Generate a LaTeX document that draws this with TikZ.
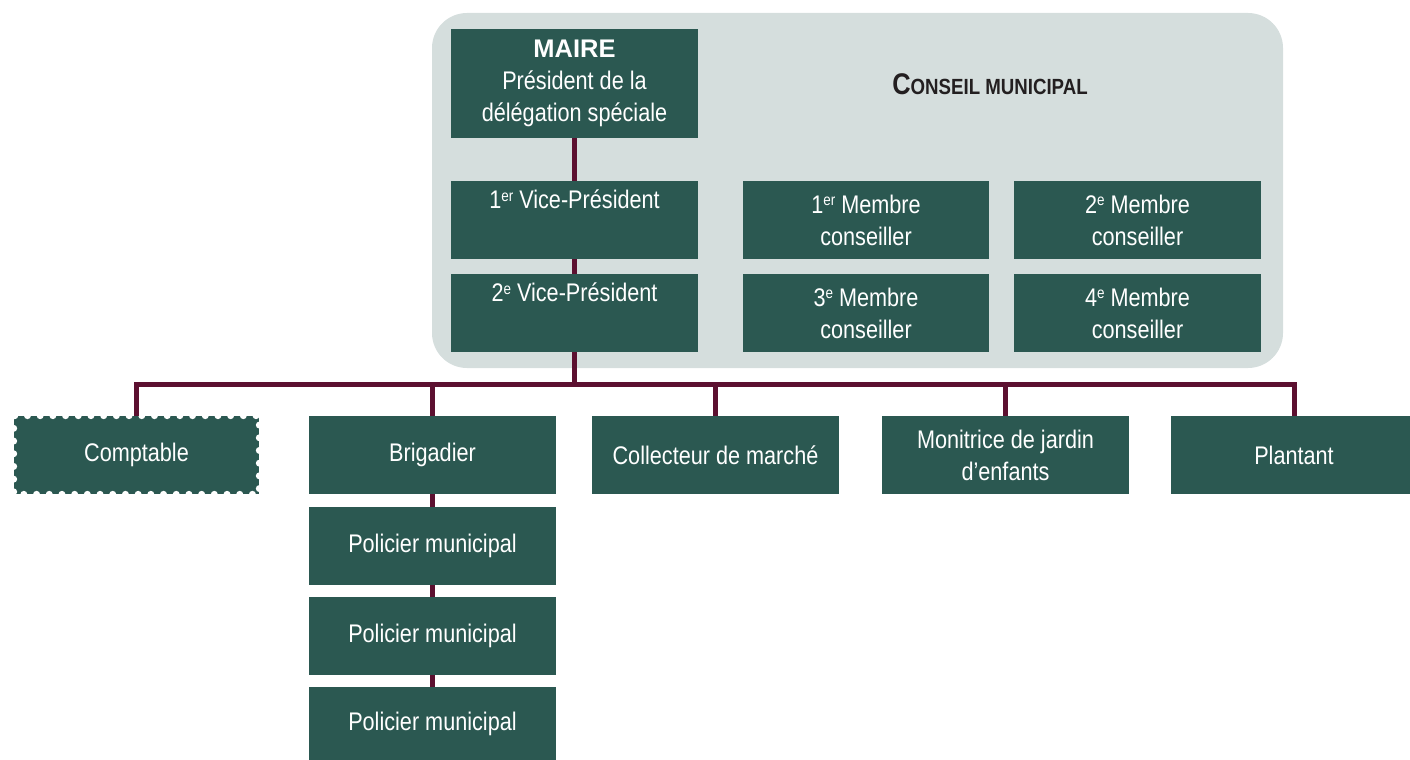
\documentclass[tikz,border=0pt]{standalone}
\usepackage{fontspec}
\setmainfont[FakeStretch=0.85]{Liberation Sans}
\newfontfamily\widefont{Liberation Sans}
\newcommand\ord[1]{\raisebox{0.55ex}{\fontsize{9}{9}\selectfont #1}}
\definecolor{boxteal}{HTML}{2B5851}
\definecolor{panelgray}{HTML}{D5DEDD}
\definecolor{linkred}{HTML}{5C1030}
\definecolor{headdark}{HTML}{231F20}
\tikzset{
  post/.style={fill=boxteal, text=white, inner sep=0pt, align=center,
    minimum width=4.94cm, minimum height=1.56cm,
    font=\fontsize{14.5}{18.2}\selectfont},
  link/.style={draw=linkred, line width=0.1cm},
  stamp/.style={draw=white, line width=0.14cm, line cap=round,
    dash pattern=on 0pt off 0.254cm},
}
\begin{document}
\begin{tikzpicture}[x=0.02cm,y=-0.02cm]
\useasboundingbox (0,0) rectangle (1410,760);

% Council panel
\fill[panelgray, rounded corners=0.7cm] (432,13) rectangle (1283,368);%
\node (conseil) at (990,84) {\bfseries\color{headdark}\fontsize{17}{20}\selectfont C\fontsize{12.5}{15}\selectfont ONSEIL MUNICIPAL};%

% Mayor and vice-presidents
\node[post, minimum height=2.18cm] (maire) at (574.5,83.5) {{\widefont\bfseries MAIRE}\\Président de la\\délégation spéciale};%
\node[post] (vp1) at (574.5,220) {1\ord{er} Vice-Président\\\strut};%
\node[post] (vp2) at (574.5,313) {2\ord{e} Vice-Président\\\strut};%

% Council members
\node[post] (mem1) at (866,220) {1\ord{er} Membre\\conseiller};%
\node[post] (mem2) at (1137.5,220) {2\ord{e} Membre\\conseiller};%
\node[post] (mem3) at (866,313) {3\ord{e} Membre\\conseiller};%
\node[post] (mem4) at (1137.5,313) {4\ord{e} Membre\\conseiller};%

% Services
\node[post, minimum width=4.9cm] (compt) at (136.5,455) {Comptable};%
\draw[stamp] (compt.north west) rectangle (compt.south east);%
\node[post] (brig) at (432.5,455) {Brigadier};%
\node[post] (coll) at (715.5,455) {Collecteur de marché};%
\node[post] (monit) at (1005.5,455) {Monitrice de jardin\\d'enfants};%
\node[post] (plant) at (1294,455) {Plantant};%

% Municipal police
\node[post] (pol1) at (432.5,546) {Policier municipal};%
\node[post] (pol2) at (432.5,636) {Policier municipal};%
\node[post, minimum height=1.48cm] (pol3) at (432.5,724) {Policier municipal};%

% Links
\draw[link] (maire.south) -- (vp1.north);%
\draw[link] (vp1.south) -- (vp2.north);%
\foreach \n in {compt,brig,coll,monit,plant}
  \draw[link] (vp2.south) |- ([yshift=0.62cm]\n.north) -- (\n.north);%
\draw[link] (brig.south) -- (pol1.north);%
\draw[link] (pol1.south) -- (pol2.north);%
\draw[link] (pol2.south) -- (pol3.north);%
\end{tikzpicture}
\end{document}
